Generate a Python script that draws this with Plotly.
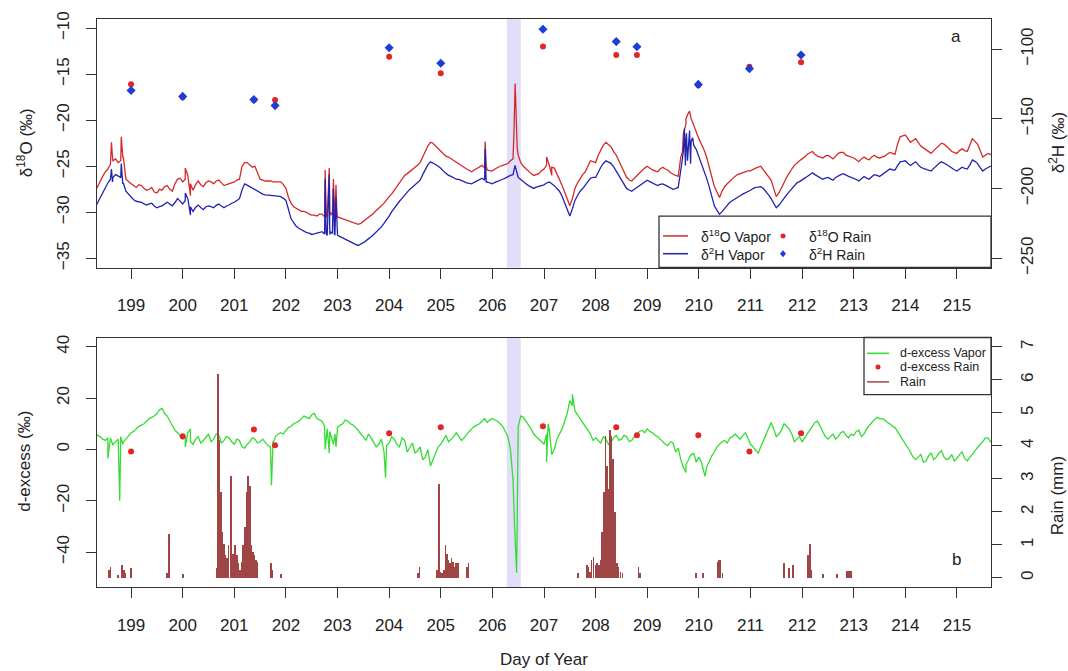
import numpy as np
import plotly.graph_objects as go

# ---------------- data ----------------
vapor_t0 = 198.3
vapor_step = 0.1

# values on the 0.1-day grid (198.3 ... 215.7)
d18o_vapor = [
    -27.8, -26.6, -25.6, -24.8, -24.2, -24.4, -26.4,
    -26.9, -27.3, -27.1, -27.6, -27.3, -27.9, -27.6, -27.1, -27.7, -26.4,
    -26.7, -26.0, -27.6, -26.6, -27.2, -26.6, -26.9, -26.5, -27.1, -26.9,
    -26.7, -26.4, -24.6, -24.9, -25.0, -26.4, -26.6, -26.6, -26.7, -26.7,
    -27.4, -29.0, -29.6, -29.9, -30.0, -30.3, -30.4, -30.2, -30.6, -30.3,
    -30.5, -30.7, -30.9, -31.1, -31.3, -31.0, -30.6, -30.1, -29.6, -29.0,
    -28.3, -27.6, -26.8, -26.0, -25.6, -25.1, -24.6, -23.4, -22.4, -22.8,
    -23.3, -23.9, -24.2, -24.6, -24.9, -25.3, -25.6, -25.2, -24.9, -25.4,
    -25.5, -25.1, -24.9, -24.7, -24.2, -23.8, -25.0, -25.6, -26.0, -25.8,
    -25.3, -24.8, -25.2, -26.4, -27.8, -29.3, -27.4, -26.3, -25.6, -24.4,
    -24.6, -23.2, -22.4, -22.9, -23.8, -25.0, -26.2, -26.6, -26.0, -25.4,
    -25.0, -25.4, -25.6, -25.1, -25.4, -25.9, -26.1, -21.5, -19.2, -20.6,
    -22.0, -23.2, -25.0, -27.2, -28.4, -27.2, -26.6, -26.1, -25.8, -25.6,
    -25.5, -25.2, -25.0, -25.8, -26.5, -28.3, -27.4, -26.2, -25.3, -24.6,
    -24.2, -23.7, -23.4, -23.9, -24.1, -23.8, -24.2, -23.6, -23.5, -23.9,
    -24.1, -24.5, -24.0, -24.3, -23.8, -24.1, -23.9, -23.5, -23.7, -21.8,
    -21.6, -22.4, -22.0, -22.8, -23.2, -23.6, -23.0, -22.5, -22.8, -23.4,
    -23.6, -23.1, -23.4, -22.0, -22.6, -24.0, -23.6, -23.8,
]
# values half-way between grid points (198.35 ... 215.65)
d18o_vapor_half = [
    -27.2, -26.1, -25.3, -24.4, -24.6, -24.0, -26.7,
    -27.1, -27.0, -27.4, -27.5, -27.8, -27.5, -27.2, -27.5, -26.9, -26.3,
    -26.4, -26.9, -27.0, -27.0, -26.8, -26.7, -26.6, -26.8, -27.0, -26.8,
    -26.5, -25.0, -24.6, -25.1, -25.8, -26.5, -26.6, -26.7, -26.7, -27.0,
    -28.4, -29.4, -29.8, -29.9, -30.2, -30.3, -30.2, -30.5, -30.4, -30.5,
    -30.6, -30.8, -31.0, -31.2, -31.2, -30.8, -30.4, -29.8, -29.3, -28.6,
    -28.0, -27.2, -26.4, -25.8, -25.3, -24.9, -24.0, -22.8, -22.5, -23.1,
    -23.7, -24.0, -24.4, -24.7, -25.1, -25.5, -25.4, -25.0, -25.2, -25.5,
    -25.3, -25.0, -24.8, -24.4, -17.5, -24.6, -25.3, -25.8, -25.9, -25.5,
    -24.9, -25.1, -25.8, -27.1, -28.6, -28.5, -26.8, -25.9, -25.0, -24.5,
    -23.8, -22.7, -22.6, -23.4, -24.4, -25.6, -26.5, -26.3, -25.7, -25.2,
    -25.2, -25.5, -25.3, -25.3, -25.7, -26.0, -24.0, -19.8, -19.8, -21.3,
    -22.6, -24.0, -26.2, -27.8, -27.7, -26.9, -26.3, -25.9, -25.7, -25.5,
    -25.3, -25.1, -25.4, -26.1, -27.4, -27.9, -26.8, -25.7, -24.9, -24.4,
    -24.0, -23.5, -23.7, -24.0, -23.9, -24.0, -23.9, -23.5, -23.8, -24.0,
    -24.3, -24.2, -24.2, -24.0, -24.0, -24.0, -23.7, -23.6, -22.6, -21.7,
    -22.0, -22.2, -22.4, -23.0, -23.4, -23.3, -22.7, -22.6, -23.1, -23.5,
    -23.3, -23.3, -22.7, -22.3, -23.3, -23.8, -23.7,
]
d18o_spike_t = [198.62, 198.64, 198.81, 198.84, 200.05, 200.15,
                202.76, 202.78, 202.84, 202.86, 202.92, 202.94, 202.97, 202.99,
                205.86, 205.88, 206.42, 206.44, 206.46, 206.48,
                207.05, 207.15, 209.68, 209.75, 209.82]
d18o_spike_v = [-22.4, -24.0, -21.8, -24.0, -25.2, -28.2,
                -25.4, -30.2, -25.2, -30.0, -26.4, -30.4, -27.0, -30.6,
                -22.3, -25.0, -21.0, -16.0, -19.5, -23.0,
                -24.0, -26.0, -23.5, -20.4, -19.0]

d2h_vapor = [
    -213.8, -206.5, -199.2, -193.3, -190.0, -192.0, -201.9,
    -206.5, -209.1, -209.8, -211.8, -210.5, -213.8, -212.4, -209.8, -212.4, -207.2,
    -211.1, -207.2, -216.4, -211.8, -215.1, -212.4, -213.8, -211.1, -213.8, -211.8,
    -209.8, -207.2, -196.6, -198.6, -200.6, -203.2, -204.5, -204.5, -205.2, -205.8,
    -208.5, -221.7, -227.0, -229.6, -231.6, -232.9, -232.2, -230.9, -233.6, -232.2,
    -233.6, -235.5, -237.5, -239.5, -240.8, -238.8, -236.2, -232.9, -229.6, -225.0,
    -219.7, -213.8, -209.1, -204.5, -200.6, -197.3, -194.0, -186.0, -180.8, -182.7,
    -185.4, -189.3, -191.3, -193.3, -194.0, -195.9, -196.6, -194.6, -192.6, -195.3,
    -196.6, -194.6, -193.3, -191.3, -190.0, -192.0, -195.3, -197.9, -199.9, -198.6,
    -197.3, -195.3, -197.9, -201.9, -209.8, -219.7, -208.5, -201.9, -197.9, -192.6,
    -192.0, -184.7, -180.1, -182.1, -187.4, -194.0, -199.9, -201.9, -199.2, -196.6,
    -194.0, -195.9, -197.9, -196.6, -198.6, -200.6, -199.2, -173.5, -163.6, -168.9,
    -176.8, -186.7, -198.6, -212.4, -218.4, -213.8, -209.8, -207.2, -205.2, -203.2,
    -201.2, -199.2, -198.6, -201.9, -207.2, -213.8, -209.8, -204.5, -200.6, -195.9,
    -194.0, -191.3, -188.7, -191.3, -193.3, -192.0, -194.0, -190.7, -189.3, -191.3,
    -192.6, -194.6, -191.3, -193.3, -190.0, -191.3, -188.7, -186.0, -186.7, -180.8,
    -180.1, -183.4, -180.8, -184.7, -186.0, -187.4, -183.4, -180.8, -182.7, -185.4,
    -187.4, -184.7, -186.0, -179.4, -182.1, -187.4, -184.7, -183.4,
]
d2h_vapor_half = [
    -210.0, -203.0, -196.0, -192.0, -191.0, -196.0, -204.0,
    -208.0, -209.5, -211.0, -211.0, -212.5, -213.0, -211.0, -211.0, -210.0, -209.0,
    -208.5, -213.0, -213.5, -213.5, -213.0, -213.0, -212.0, -212.5, -212.5, -210.5,
    -208.5, -201.0, -197.5, -199.5, -202.0, -204.0, -204.5, -205.0, -205.5, -207.0,
    -215.0, -224.5, -228.5, -230.5, -232.0, -232.5, -231.5, -232.5, -233.0, -233.0,
    -234.5, -236.5, -238.5, -240.0, -240.0, -237.5, -234.5, -231.0, -227.5, -222.5,
    -216.5, -211.5, -207.0, -202.5, -199.0, -195.5, -190.0, -183.0, -181.5, -184.0,
    -187.5, -190.5, -192.5, -193.5, -195.0, -196.0, -195.5, -193.5, -194.0, -196.0,
    -195.5, -194.0, -192.5, -190.5, -185.0, -193.5, -196.5, -199.0, -199.0, -198.0,
    -196.0, -196.5, -200.0, -205.5, -214.5, -214.5, -205.0, -200.0, -195.0, -192.0,
    -188.0, -182.0, -181.0, -184.5, -190.5, -197.0, -201.0, -200.5, -198.0, -195.5,
    -195.0, -197.0, -197.0, -197.5, -199.5, -200.0, -187.0, -166.0, -166.0, -172.0,
    -181.5, -192.5, -205.5, -215.5, -216.5, -212.0, -208.5, -206.0, -204.0, -202.0,
    -200.0, -199.0, -200.0, -204.5, -210.5, -212.0, -207.0, -202.5, -198.0, -195.0,
    -192.5, -190.0, -190.0, -192.5, -192.5, -193.0, -192.0, -190.0, -190.5, -192.0,
    -193.5, -193.0, -192.5, -191.5, -190.5, -190.0, -187.5, -186.5, -183.5, -180.5,
    -182.0, -182.0, -183.0, -185.5, -186.5, -185.5, -182.0, -181.5, -184.0, -186.5,
    -186.0, -185.5, -183.0, -180.5, -185.0, -186.0, -184.0,
]
d2h_spike_t = [198.62, 198.64, 198.81, 198.84, 200.05, 200.15,
               202.76, 202.78, 202.84, 202.86, 202.92, 202.94, 202.97, 202.99,
               205.86, 205.88, 206.44,
               209.72, 209.74, 209.76, 209.78, 209.82, 209.84, 209.88]
d2h_spike_v = [-186.0, -195.3, -182.1, -196.6, -203.2, -219.0,
               -193.3, -232.2, -190.0, -230.9, -199.9, -232.9, -206.5, -233.6,
               -171.5, -195.3, -183.4,
               -157.0, -183.4, -160.3, -180.1, -158.3, -182.1, -163.6]

dexcess_vapor = [
    6.0, 5.0, 3.5, 4.5, 3.0, 5.0, 4.0,
    6.5, 8.0, 9.5, 11.0, 12.5, 14.0, 16.0, 13.0, 9.0, 6.5,
    4.0, 6.5, 2.0, 5.0, 3.5, 6.0, 4.0, 5.5, 3.5, 4.5,
    2.0, 3.5, 0.5, 3.0, 4.0, 3.0, 2.5, 1.0, 5.0, 6.5,
    7.5, 9.0, 10.5, 12.0, 12.5, 13.5, 12.0, 11.0, 8.0, 4.0,
    8.5, 10.0, 11.0, 9.5, 7.5, 5.0, 6.0, 3.0, 2.0, -1.0,
    2.5, 4.0, 1.0, 3.5, 0.5, -1.5, 1.0, -3.0, -6.5, -2.0,
    2.0, 5.5, 4.0, 6.5, 3.5, 6.0, 8.0, 9.5, 11.0, 10.5,
    12.0, 11.0, 9.0, 5.0, -12.0, 9.0, 12.5, 10.0, 6.0, 4.0,
    2.0, 8.0, 0.0, 6.0, 11.0, 19.0, 15.0, 12.0, 8.5, 6.0,
    4.5, 2.5, 4.0, 3.0, 5.5, 4.0, 5.0, 3.5, 6.0, 7.5,
    8.0, 6.5, 5.0, 3.0, 1.5, 2.5, 0.5, -7.0, -4.0, -1.5,
    -3.0, -9.0, -4.5, -1.0, 2.0, 3.5, 4.5, 6.0, 4.0, 6.5,
    2.0, -0.5, 1.0, 6.0, 10.5, 5.0, 7.5, 9.0, 6.0, 4.0,
    3.0, 5.5, 9.0, 11.0, 7.5, 4.0, 6.0, 5.0, 7.0, 4.5,
    5.5, 7.5, 6.0, 9.5, 11.5, 12.0, 11.5, 10.0, 8.5, 5.0,
    2.0, -1.0, -4.0, -2.0, -4.5, -1.5, -3.0, -0.5, -4.0, -2.0,
    -3.5, -1.0, -4.5, -2.0, 1.0, 3.0, 4.5, 3.5,
]
dexcess_vapor_half = [
    5.5, 4.0, 4.5, 2.0, 4.0, 3.0, 5.5,
    7.0, 9.0, 10.0, 12.0, 13.0, 15.5, 14.0, 11.0, 7.5, 5.5,
    5.0, 3.0, 4.0, 2.5, 5.0, 3.0, 6.0, 2.5, 5.0, 3.0,
    4.0, 1.0, 2.0, 4.5, 2.5, 4.0, 1.5, 3.0, 6.0, 6.0,
    8.5, 10.0, 11.0, 13.0, 12.0, 14.0, 11.5, 9.0, 7.0, 6.0,
    9.5, 11.5, 10.0, 8.5, 6.0, 3.5, 4.5, 1.0, 4.0, 1.5,
    5.0, 2.0, 4.5, -1.0, 2.5, -0.5, -4.0, 0.0, -4.0, 1.0,
    4.0, 3.0, 5.0, 5.0, 4.5, 7.0, 9.0, 10.0, 12.0, 11.5,
    11.5, 10.0, 7.0, 0.0, -40.0, 13.0, 11.0, 8.0, 5.0, 3.0,
    6.0, -2.0, 4.0, 8.0, 14.0, 17.0, 13.5, 10.0, 7.0, 3.5,
    3.5, 5.0, 2.0, 4.5, 3.5, 5.5, 3.0, 5.0, 7.0, 6.5,
    7.0, 5.5, 4.0, 2.0, 3.0, -1.0, -4.0, -6.0, -2.0, -5.0,
    -5.0, -7.0, -2.5, 1.0, 3.0, 2.5, 5.0, 5.0, 5.5, 4.5,
    1.0, -1.5, 3.5, 8.5, 8.0, 6.0, 10.0, 8.0, 3.0, 5.0,
    4.5, 7.0, 10.5, 9.0, 5.0, 5.0, 4.0, 6.5, 5.5, 6.0,
    7.0, 5.0, 8.0, 10.5, 12.5, 12.0, 10.5, 9.0, 7.0, 3.5,
    0.5, -3.0, -3.0, -5.0, -2.5, -4.0, -1.5, -3.0, -3.5, -4.5,
    -2.0, -3.5, -3.0, -0.5, 2.0, 4.5, 3.0,
]
dexcess_spike_t = [198.55, 198.65, 198.78, 198.84, 200.05, 200.15,
                   201.72, 201.76, 202.76, 202.84, 202.92, 202.97, 203.93,
                   206.43, 206.47, 207.05, 207.08, 207.55, 209.75, 210.12]
dexcess_spike_v = [-3.5, 1.5, -20.0, 2.0, 1.0, 8.0,
                   -14.0, 3.0, 0.0, -1.5, 2.0, 1.0, -11.0,
                   -30.0, -48.0, -5.0, 10.0, 21.5, -9.0, -10.5]

rain_event_day = [199.0, 200.0, 201.38, 201.79, 204.0, 205.0, 206.98, 208.4, 208.8, 209.99, 210.98, 211.98]
d18o_rain = [-16.1, -17.5, -17.8, -17.8, -13.1, -14.9, -12.0, -12.9, -12.9, -16.2, -14.2, -13.7]
d2h_rain = [-129.7, -133.9, -136.2, -140.5, -99.0, -110.1, -85.7, -94.6, -98.3, -125.3, -114.1, -104.2]
dexcess_rain = [-0.8, 5.1, 7.8, 1.6, 6.3, 8.6, 9.0, 8.6, 5.5, 5.5, -0.8, 6.3]

rain_t = [198.57, 198.60, 198.75, 198.82, 198.86, 198.89, 199.00,
          199.70, 199.74, 200.00,
          200.66, 200.69, 200.71, 200.74, 200.77, 200.80, 200.83, 200.86, 200.89, 200.93, 200.96, 200.99,
          201.02, 201.05, 201.08, 201.11, 201.14, 201.17, 201.21, 201.24, 201.27, 201.30, 201.33, 201.36,
          201.39, 201.42, 201.45,
          201.71, 201.74, 201.90,
          204.56, 204.59, 204.93, 204.96, 204.99, 205.02, 205.06, 205.09, 205.12, 205.15, 205.18, 205.21,
          205.24, 205.27, 205.30, 205.33, 205.51, 205.54,
          207.66, 207.83, 207.86, 207.89, 207.92, 207.96, 208.00, 208.03, 208.06, 208.10, 208.13, 208.16,
          208.19, 208.22, 208.25, 208.28, 208.31, 208.34, 208.37, 208.41, 208.44, 208.48, 208.52, 208.83, 208.86,
          209.95, 210.08, 210.36, 210.39, 210.42, 210.46,
          211.65, 211.74, 211.82, 212.12, 212.15, 212.18, 212.40, 212.67, 212.87, 212.91, 212.95]
rain_mm = [0.25, 0.35, 0.10, 0.40, 0.25, 0.15, 0.30,
           0.15, 1.35, 0.12,
           0.30, 6.20, 4.20, 2.60, 1.40, 1.05, 0.70, 0.60, 1.00, 3.10, 0.75, 0.75,
           1.00, 0.70, 0.45, 0.25, 0.50, 1.00, 1.55, 2.60, 3.10, 2.80, 1.00, 0.80,
           0.70, 0.55, 0.50,
           0.45, 0.25, 0.12,
           0.15, 0.35, 0.25, 2.85, 0.20, 0.15, 0.25, 1.00, 0.75, 0.55, 0.45, 0.60,
           0.50, 0.35, 0.45, 0.45, 0.35, 0.45,
           0.15, 0.40, 0.35, 0.20, 0.55, 0.65, 0.40, 0.45, 0.40, 0.55, 1.40, 2.60,
           4.30, 3.40, 2.70, 4.50, 4.30, 3.60, 2.00, 0.45, 0.35, 0.20, 0.15, 0.35, 0.15,
           0.15, 0.15, 0.50, 0.55, 0.55, 0.15,
           0.45, 0.30, 0.40, 0.70, 1.05, 0.25, 0.12, 0.12, 0.22, 0.22, 0.22]

day_ticks = list(range(199, 216))
d18o_ticks = [-35, -30, -25, -20, -15, -10]
d2h_ticks = [-250, -200, -150, -100]
dexcess_ticks = [-40, -20, 0, 20, 40]
rain_ticks = [0, 1, 2, 3, 4, 5, 6, 7]
shade_days = [206.28, 206.55]

assert len(d18o_vapor) == len(d2h_vapor) == len(dexcess_vapor) == 175
assert len(d18o_vapor_half) == len(d2h_vapor_half) == len(dexcess_vapor_half) == 174
assert len(rain_t) == len(rain_mm)

# ---------------- helpers ----------------
t_base = vapor_t0 + vapor_step * np.arange(len(d18o_vapor))
t_half = t_base[:-1] + vapor_step / 2


def merge(vb, vh, ts, vs):
    t = np.concatenate([t_base, t_half, np.array(ts, float)])
    v = np.concatenate([np.array(vb, float), np.array(vh, float), np.array(vs, float)])
    o = np.argsort(t, kind="stable")
    return t[o], v[o]


t18, v18 = merge(d18o_vapor, d18o_vapor_half, d18o_spike_t, d18o_spike_v)
t2h, v2h = merge(d2h_vapor, d2h_vapor_half, d2h_spike_t, d2h_spike_v)
tdx, vdx = merge(dexcess_vapor, dexcess_vapor_half, dexcess_spike_t, dexcess_spike_v)

RED = "#D42A2A"
BLUE = "#2222B0"
DIAM = "#1E3CD6"
DOT = "#E02626"
GREEN = "#33DD33"
BROWN = "#A04545"
FONT = "Liberation Sans, Arial, sans-serif"

W, H = 1068, 671
L, R, T, B = 97, 991, 11, 587
PW, PH = R - L, B - T


def px(x):
    return (x - L) / PW


def py(y):
    return (B - y) / PH


top_dom = [py(263), 1.0]
bot_dom = [0.0, py(334)]

fig = go.Figure()
fig.add_trace(go.Scatter(x=t18, y=v18, mode="lines", line=dict(color=RED, width=1.3),
                         xaxis="x", yaxis="y", showlegend=False))
fig.add_trace(go.Scatter(x=rain_event_day, y=d18o_rain, mode="markers",
                         marker=dict(color=DOT, size=6, symbol="circle"),
                         xaxis="x", yaxis="y", showlegend=False))
fig.add_trace(go.Scatter(x=t2h, y=v2h, mode="lines", line=dict(color=BLUE, width=1.3),
                         xaxis="x", yaxis="y2", showlegend=False))
fig.add_trace(go.Scatter(x=rain_event_day, y=d2h_rain, mode="markers",
                         marker=dict(color=DIAM, size=7, symbol="diamond"),
                         xaxis="x", yaxis="y2", showlegend=False))
fig.add_trace(go.Scatter(x=tdx, y=vdx, mode="lines", line=dict(color=GREEN, width=1.3),
                         xaxis="x2", yaxis="y3", showlegend=False))
fig.add_trace(go.Scatter(x=rain_event_day, y=dexcess_rain, mode="markers",
                         marker=dict(color=DOT, size=6, symbol="circle"),
                         xaxis="x2", yaxis="y3", showlegend=False))
fig.add_trace(go.Bar(x=rain_t, y=rain_mm, width=0.014, marker=dict(color=BROWN, line=dict(width=0)),
                     xaxis="x2", yaxis="y4", showlegend=False))

axis_common = dict(showgrid=False, zeroline=False, showline=True, linecolor="#333333", linewidth=1.3,
                   ticks="outside", ticklen=10, tickwidth=1.3, tickcolor="#333333",
                   tickfont=dict(size=17, color="#222222", family=FONT))
xr = [198.34, 215.66]
fig.update_layout(
    width=W, height=H, margin=dict(l=L, r=W - R, t=T, b=H - B),
    paper_bgcolor="white", plot_bgcolor="white", bargap=0,
    font=dict(family=FONT, color="#222222", size=14),
    xaxis=dict(axis_common, domain=[0, 1], anchor="y", range=xr, tickvals=day_ticks,
               mirror=True, ticklabelstandoff=12),
    yaxis=dict(axis_common, domain=top_dom, anchor="x", range=[-36, -9], tickvals=d18o_ticks,
               tickangle=-90, ticklabelstandoff=10),
    yaxis2=dict(axis_common, overlaying="y", side="right", anchor="x", range=[-256.6, -78.4],
                tickvals=d2h_ticks, tickangle=-90, ticklabelstandoff=10),
    xaxis2=dict(axis_common, domain=[0, 1], anchor="y3", range=xr, tickvals=day_ticks,
                mirror=True, ticklabelstandoff=12),
    yaxis3=dict(axis_common, domain=bot_dom, anchor="x2", range=[-53.6, 43.6], tickvals=dexcess_ticks,
                tickangle=-90, ticklabelstandoff=10),
    yaxis4=dict(axis_common, overlaying="y3", side="right", anchor="x2", range=[-0.28, 7.28],
                tickvals=rain_ticks, tickangle=-90, ticklabelstandoff=10),
)

shapes = [
    dict(type="rect", xref="x", yref="paper", x0=shade_days[0], x1=shade_days[1],
         y0=top_dom[0], y1=top_dom[1], fillcolor="#E2DEFA", line=dict(width=0), layer="below"),
    dict(type="rect", xref="x2", yref="paper", x0=shade_days[0], x1=shade_days[1],
         y0=bot_dom[0], y1=bot_dom[1], fillcolor="#E2DEFA", line=dict(width=0), layer="below"),
    # legend boxes
    dict(type="rect", xref="paper", yref="paper", x0=px(659), x1=1.0, y0=top_dom[0], y1=py(211),
         line=dict(color="#333333", width=1.3), fillcolor="white"),
    dict(type="rect", xref="paper", yref="paper", x0=px(864), x1=1.0, y0=py(392), y1=bot_dom[1],
         line=dict(color="#333333", width=1.3), fillcolor="white"),
    # legend line samples
    dict(type="line", xref="paper", yref="paper", x0=px(663), x1=px(688), y0=py(231), y1=py(231),
         line=dict(color=RED, width=1.5)),
    dict(type="line", xref="paper", yref="paper", x0=px(663), x1=px(688), y0=py(249), y1=py(249),
         line=dict(color=BLUE, width=1.5)),
    dict(type="line", xref="paper", yref="paper", x0=px(867), x1=px(889), y0=py(350), y1=py(350),
         line=dict(color=GREEN, width=1.5)),
    dict(type="line", xref="paper", yref="paper", x0=px(867), x1=px(889), y0=py(379), y1=py(379),
         line=dict(color=BROWN, width=1.5)),
    # legend markers
    dict(type="circle", xref="paper", yref="paper", xsizemode="pixel", ysizemode="pixel",
         xanchor=px(783), yanchor=py(231), x0=-2.5, x1=2.5, y0=-2.5, y1=2.5,
         fillcolor=DOT, line=dict(width=0)),
    dict(type="path", xref="paper", yref="paper", xsizemode="pixel", ysizemode="pixel",
         xanchor=px(783), yanchor=py(249), path="M 0,3.5 L 3,0 L 0,-3.5 L -3,0 Z",
         fillcolor=DIAM, line=dict(width=0)),
    dict(type="circle", xref="paper", yref="paper", xsizemode="pixel", ysizemode="pixel",
         xanchor=px(878), yanchor=py(364), x0=-2.5, x1=2.5, y0=-2.5, y1=2.5,
         fillcolor=DOT, line=dict(width=0)),
]
fig.update_layout(shapes=shapes)

ann = []


def A(x, y, text, size=17, angle=0, xanchor="center", yanchor="middle"):
    ann.append(dict(xref="paper", yref="paper", x=x, y=y, text=text, showarrow=False,
                    textangle=angle, xanchor=xanchor, yanchor=yanchor,
                    font=dict(size=size, family=FONT, color="#222222")))


A(px(25), py(137), "δ<sup>18</sup>O (‰)", angle=-90)
A(px(1057), py(137), "δ<sup>2</sup>H (‰)", angle=-90)
A(px(25), py(460), "d-excess (‰)", angle=-90)
A(px(1057), py(495), "Rain (mm)", angle=-90)
A(0.5, py(661), "Day of Year")
A(px(956), py(29), "a", size=17)
A(px(956), py(559), "b", size=17)
A(px(699), py(231), "δ<sup>18</sup>O Vapor", size=14, xanchor="left")
A(px(699), py(249), "δ<sup>2</sup>H Vapor", size=14, xanchor="left")
A(px(807), py(231), "δ<sup>18</sup>O Rain", size=14, xanchor="left")
A(px(807), py(249), "δ<sup>2</sup>H Rain", size=14, xanchor="left")
A(px(898), py(350), "d-excess Vapor", size=12.5, xanchor="left")
A(px(898), py(364), "d-excess Rain", size=12.5, xanchor="left")
A(px(898), py(379), "Rain", size=12.5, xanchor="left")
fig.update_layout(annotations=ann)

fig.write_html("out.html")
